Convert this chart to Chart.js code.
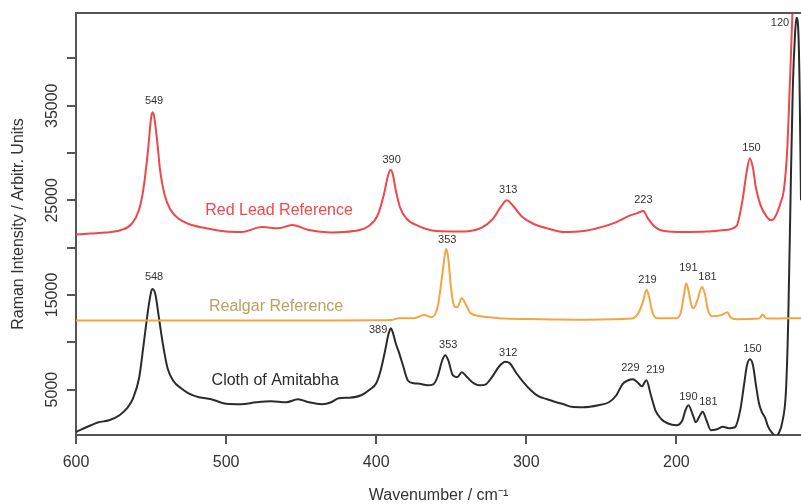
<!DOCTYPE html>
<html>
<head>
  <meta charset="UTF-8">
  <title>Raman Spectra</title>
  <script src="https://cdn.jsdelivr.net/npm/chart.js"></script>
</head>
<body style="margin:0">
  <canvas id="chart" width="801" height="504"></canvas>
  <script>
    // Red Lead Reference
    const redWave = [600, 590, 580, 570, 563, 558, 555, 552, 550, 549, 548, 546, 544, 541, 537, 532, 525, 515, 500, 490,
      476, 465, 456, 445, 430, 415, 405, 399, 395, 392, 390.5, 389, 387, 384, 380, 372, 360, 345, 330, 322,
      317, 313, 309, 303, 295, 285, 275, 262, 250, 240, 232, 226, 222, 219, 215, 208, 195, 180, 168, 160,
      156, 153, 151, 149, 147, 144, 140, 137, 134, 130.7, 128.4, 126.2, 124.5, 122.7, 121, 117];
    const redInt = [21400, 21500, 21600, 21860, 22500, 24000, 26300, 30300, 33700, 34300, 33900, 31400, 28200, 25600, 24000, 23100, 22500, 22100, 21700, 21650,
      22170, 22050, 22400, 21860, 21600, 21750, 22280, 23440, 25550, 27680, 28200, 27800, 26100, 24200, 23100, 22300, 21750, 21700, 22100, 23100,
      24300, 25000, 24450, 23300, 22500, 22000, 21650, 21750, 22170, 22700, 23330, 23650, 23870, 23100, 22300, 21750, 21650, 21700, 21860, 22280,
      25000, 28200, 29460, 28400, 26300, 24500, 23300, 22900, 23330, 24700, 26100, 30300, 37000, 44800, 55000, 55000];

    // Realgar Reference
    const realgarWave = [600, 500, 400, 390, 385, 375, 368, 363, 359, 356, 354, 353.3, 352, 350, 348, 346, 343, 340, 337, 330,
      325, 315, 290, 260, 230, 225, 222, 220, 218, 216, 213, 200, 197, 195, 193.5, 192, 190, 188.5, 186, 183,
      181, 179, 176, 170, 166, 164, 160, 145, 142.5, 140, 117];
    const realgarInt = [12300, 12300, 12320, 12350, 12550, 12550, 12870, 12650, 13800, 17100, 19500, 19850, 18900, 15500, 13800, 13700, 14660, 13900, 13050, 12760,
      12650, 12500, 12440, 12390, 12500, 13180, 14450, 15560, 14660, 13180, 12550, 12550, 13180, 14980, 16250, 15500, 13900, 13600, 14450, 15830,
      15090, 13390, 12760, 12870, 13180, 12650, 12440, 12500, 12920, 12500, 12550];

    // Cloth of Amitabha
    const clothWave = [600, 590, 585, 578, 571, 566, 562, 558, 555, 552, 550, 549, 547, 545, 542, 539, 535, 530, 525, 518,
      510, 500, 490, 480, 470, 460, 452, 445, 436, 430, 425, 418, 410, 404, 400, 397, 394, 392, 390.3, 389,
      387, 384.7, 382, 379, 375, 371, 366, 362, 359, 356, 354, 352, 349, 346, 343, 340, 336, 331, 327, 323,
      318, 314, 311, 307, 302, 297, 292, 286, 280, 275, 270, 262, 252, 245, 240, 236, 232, 229, 226, 223,
      220, 217, 214, 210, 206, 200, 196, 194, 192, 189, 187, 185, 182.5, 180, 177, 173, 169, 165, 161, 157.5,
      155, 153, 151, 149, 147, 145, 143, 141, 139, 136, 134, 131.5, 129.5, 127, 125.5, 124, 122.5, 121, 120, 119,
      118, 117];
    const clothInt = [520, 1230, 1540, 1760, 2290, 3030, 4080, 6200, 9690, 13390, 15300, 15620, 14980, 12870, 9690, 7260, 5880, 5140, 4610, 4190,
      3980, 3500, 3450, 3660, 3770, 3660, 3980, 3660, 3450, 3660, 4080, 4140, 4400, 5040, 5670, 7050, 9160, 10750, 11490, 11070,
      9900, 8850, 7470, 5990, 5670, 5620, 5460, 5560, 6410, 8100, 8630, 8100, 6520, 6300, 6830, 6410, 5780, 5460, 5560, 6300,
      7470, 7950, 7790, 6830, 5780, 4930, 4300, 3980, 3660, 3450, 3180, 3130, 3340, 3660, 4400, 5560, 5990, 6090, 5780, 5350,
      5990, 4400, 2810, 1860, 1440, 1230, 1760, 2810, 3340, 2290, 1540, 2070, 2660, 1760, 700, 800, 1070, 910, 1020, 2810,
      5460, 7580, 8210, 7580, 5460, 3550, 2600, 2070, 1120, 380, 60, 490, 1540, 4930, 12340, 25030, 36670, 42500, 44290, 43550,
      37730, 25000];

    // peak annotations: label text, wavenumber, intensity
    const peakText = ['549', '390', '313', '223', '150', '120', '353', '219', '191', '181',
      '548', '389', '353', '312', '229', '219', '190', '181', '150'];
    const peakWave = [548, 389.7, 312, 222, 150, 131, 352.7, 219.3, 192, 179.3,
      548, 398.7, 352, 312, 230.7, 214, 192, 178.7, 149.3];
    const peakInt = [35500, 29260, 26090, 25040, 30520, 43760, 20800, 16570, 17840, 16890,
      16890, 11280, 9690, 8840, 7260, 7050, 4190, 3660, 9270];

    // series names written on the plot
    const seriesNames = ['Red Lead Reference', 'Realgar Reference', 'Cloth of Amitabha'];
    const nameWave = [464.7, 466.7, 467.3];
    const nameInt = [23900, 13800, 6000];
    const nameColors = ['#f0464c', '#b9a262', '#2b2b2b'];

    const xTicks = [600, 500, 400, 300, 200];
    const yTicks = [5000, 10000, 15000, 20000, 25000, 30000, 35000, 40000];
    const yLabelled = [5000, 15000, 25000, 35000];

    const FONT = "'Liberation Sans', Arial, sans-serif";
    const AXIS = '#555555';

    function pts(xs, ys) {
      return xs.map((x, i) => ({ x: x, y: ys[i] }));
    }

    const overlay = {
      id: 'overlay',
      afterDraw(chart) {
        const ctx = chart.ctx;
        const xs = chart.scales.x, ys = chart.scales.y;
        const area = chart.chartArea;
        ctx.save();
        // top frame line
        ctx.strokeStyle = AXIS;
        ctx.lineWidth = 2;
        ctx.beginPath();
        ctx.moveTo(area.left - 1, area.top);
        ctx.lineTo(area.right, area.top);
        ctx.stroke();

        // rotated y tick labels
        ctx.fillStyle = '#333';
        ctx.font = '16px ' + FONT;
        ctx.textAlign = 'center';
        ctx.textBaseline = 'middle';
        yLabelled.forEach(v => {
          ctx.save();
          ctx.translate(area.left - 23, ys.getPixelForValue(v));
          ctx.rotate(-Math.PI / 2);
          ctx.fillText(String(v), 0, 0);
          ctx.restore();
        });

        // peak labels
        ctx.font = '11px ' + FONT;
        ctx.fillStyle = '#333';
        peakText.forEach((t, i) => {
          ctx.fillText(t, xs.getPixelForValue(peakWave[i]), ys.getPixelForValue(peakInt[i]));
        });

        // series names
        ctx.font = '16px ' + FONT;
        seriesNames.forEach((t, i) => {
          ctx.fillStyle = nameColors[i];
          ctx.fillText(t, xs.getPixelForValue(nameWave[i]), ys.getPixelForValue(nameInt[i]));
        });
        ctx.restore();
      }
    };

    new Chart(document.getElementById('chart').getContext('2d'), {
      type: 'line',
      data: {
        datasets: [
          { label: 'Red Lead Reference', data: pts(redWave, redInt), borderColor: '#f0464c' },
          { label: 'Realgar Reference', data: pts(realgarWave, realgarInt), borderColor: '#f5a443' },
          { label: 'Cloth of Amitabha', data: pts(clothWave, clothInt), borderColor: '#2b2b2b' }
        ]
      },
      options: {
        responsive: false,
        animation: false,
        devicePixelRatio: 1,
        layout: { padding: { top: 13, left: 0, right: 0, bottom: 0 } },
        elements: {
          point: { radius: 0 },
          line: { borderWidth: 2, cubicInterpolationMode: 'monotone', fill: false }
        },
        plugins: { legend: { display: false }, tooltip: { enabled: false } },
        scales: {
          x: {
            type: 'linear',
            reverse: true,
            min: 117,
            max: 600,
            afterBuildTicks: s => { s.ticks = xTicks.map(v => ({ value: v })); },
            afterFit: s => { s.height = 69; },
            grid: { drawOnChartArea: false, color: AXIS, lineWidth: 2, tickLength: 9 },
            border: { color: AXIS, width: 2 },
            ticks: { color: '#333', font: { family: FONT, size: 16 }, padding: 9, maxRotation: 0 },
            title: {
              display: true,
              text: 'Wavenumber / cm\u207B\u00B9',
              color: '#333',
              font: { family: FONT, size: 16, lineHeight: 1 },
              padding: { top: 0, bottom: 0 }
            }
          },
          y: {
            type: 'linear',
            min: 200,
            max: 44800,
            afterBuildTicks: s => { s.ticks = yTicks.map(v => ({ value: v })); },
            afterFit: s => { s.width = 76; },
            grid: { drawOnChartArea: false, color: AXIS, lineWidth: 2, tickLength: 9 },
            border: { color: AXIS, width: 2 },
            ticks: { display: false },
            title: {
              display: true,
              text: 'Raman Intensity / Arbitr. Units',
              color: '#333',
              font: { family: FONT, size: 16, lineHeight: 1.2 },
              padding: { top: 9, bottom: 0 }
            }
          }
        }
      },
      plugins: [overlay]
    });
  </script>
</body>
</html>
